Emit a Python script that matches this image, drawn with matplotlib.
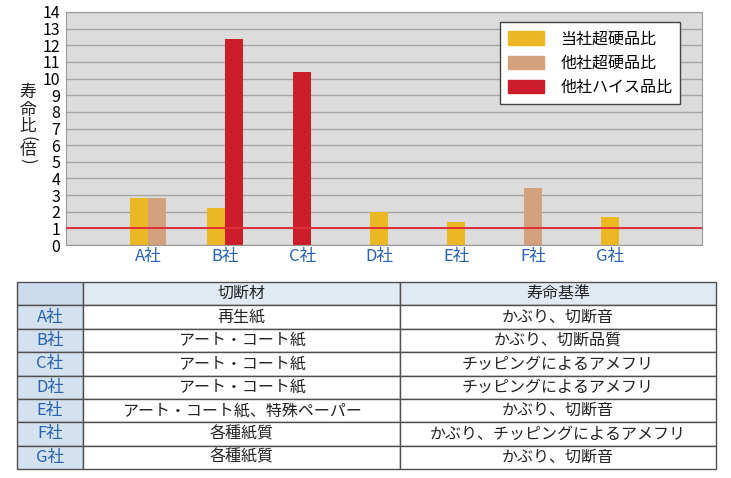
import matplotlib.pyplot as plt
from matplotlib.patches import Patch

plt.rcParams['font.family'] = ['Noto Sans CJK JP', 'DejaVu Sans']

companies = ["A社", "B社", "C社", "D社", "E社", "F社", "G社"]
series_names = ["当社超硬品比", "他社超硬品比", "他社ハイス品比"]
ours_carbide = [2.8, 2.2, 0, 2.0, 1.4, 0, 1.7]
other_carbide = [2.8, 0, 0, 0, 0, 3.4, 0]
other_hss = [0, 12.4, 10.4, 0, 0, 0, 0]
series_colors = ["#ebb723", "#d3a17c", "#cc1e2a"]
baseline = 1

table_header = ["", "切断材", "寿命基準"]
materials = ["再生紙", "アート・コート紙", "アート・コート紙", "アート・コート紙",
             "アート・コート紙、特殊ペーパー", "各種紙質", "各種紙質"]
criteria = ["かぶり、切断音", "かぶり、切断品質", "チッピングによるアメフリ",
            "チッピングによるアメフリ", "かぶり、切断音",
            "かぶり、チッピングによるアメフリ", "かぶり、切断音"]

W, H = 731, 478
fig = plt.figure(figsize=(W / 100, H / 100), dpi=100)

# chart
ax = fig.add_axes([66 / W, 1 - 245 / H, 636 / W, 233 / H])
ax.set_facecolor("#dcdcdc")
ax.set_ylim(0, 14)
ax.set_xlim(-1.07, 7.19)
ax.set_yticks(range(0, 15))
ax.yaxis.grid(True, color="#a4a4a4", linewidth=1)
ax.set_axisbelow(True)
for s in ax.spines.values():
    s.set_color("#9a9a9a")

bw = 0.235
data = [ours_carbide, other_carbide, other_hss]
for i in range(len(companies)):
    present = [k for k in range(3) if data[k][i] > 0]
    n = len(present)
    for j, k in enumerate(present):
        ax.bar(i + (j - (n - 1) / 2) * bw, data[k][i], width=bw,
               color=series_colors[k], zorder=2)

ax.axhline(baseline, color="#e0303a", linewidth=1.4, zorder=3)

ax.set_xticks(range(len(companies)))
ax.set_xticklabels(companies, fontsize=12, color="#2a62b0")
ax.tick_params(axis="x", length=0, pad=2)
ax.tick_params(axis="y", length=0, labelsize=11.5, pad=4)

handles = [Patch(color=c, label=n) for c, n in zip(series_colors, series_names)]
leg = ax.legend(handles=handles, loc="upper left", bbox_to_anchor=(0.682, 0.955),
                fontsize=11.5, fancybox=False, framealpha=1, edgecolor="#444444",
                handlelength=2.3, handleheight=0.9, handletextpad=1.0,
                labelspacing=0.45, borderpad=0.5, borderaxespad=0)
leg.get_frame().set_linewidth(1)

# vertical y label, parentheses turned for vertical writing
label_chars = ["寿", "命", "比", "(", "倍", ")"]
label_y = [92, 110, 127, 139, 150, 161]
for ch, yy in zip(label_chars, label_y):
    rot = -90 if ch in "()" else 0
    fig.text(28 / W, 1 - yy / H, ch, fontsize=12, ha="center", va="center",
             rotation=rot, color="#222222")

# table
tax = fig.add_axes([17 / W, 1 - 469 / H, 699 / W, 187 / H])
tax.axis("off")
cell_text = [table_header] + [[c, m, r] for c, m, r in zip(companies, materials, criteria)]
cell_colors = [["#cddcec", "#e1eaf3", "#e1eaf3"]] + \
              [["#d3e1f0", "white", "white"] for _ in companies]
tbl = tax.table(cellText=cell_text, cellColours=cell_colors, cellLoc="center",
                colWidths=[66, 317, 316], bbox=[0, 0, 1, 1])
tbl.auto_set_font_size(False)
for (r, c), cell in tbl.get_celld().items():
    cell.set_edgecolor("#505050")
    cell.set_linewidth(1)
    cell.get_text().set_fontsize(11.5)
    if c == 0:
        cell.get_text().set_color("#2a62b0")
        cell.get_text().set_fontsize(12)
    else:
        cell.get_text().set_color("#222222")

fig.savefig("out.png", dpi=100)
